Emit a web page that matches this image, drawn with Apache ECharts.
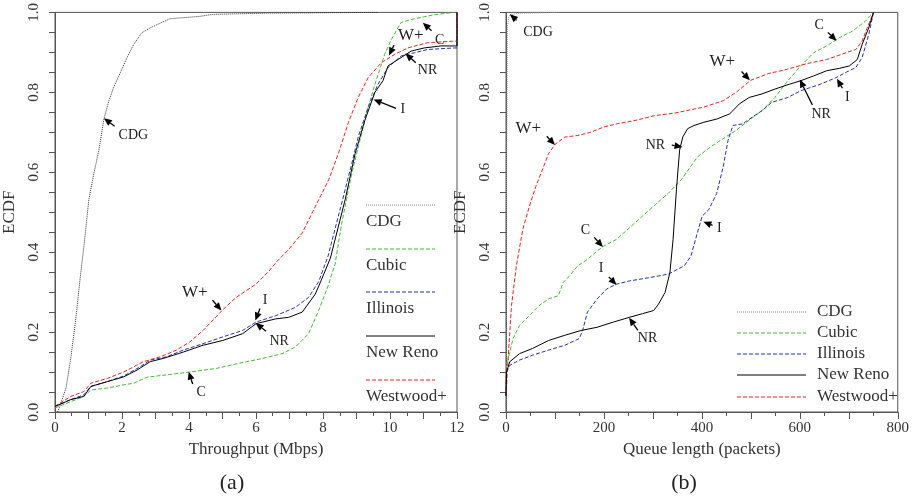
<!DOCTYPE html>
<html><head><meta charset="utf-8">
<script src="https://cdn.jsdelivr.net/npm/echarts@6/dist/echarts.min.js"></script>
<style>html,body{margin:0;padding:0;background:#fff}#c{width:912px;height:501px}</style>
</head><body><div id="c"></div>
<script>
// ---------- data ----------
const seriesNames = ['CDG', 'Cubic', 'Illinois', 'New Reno', 'Westwood+'];

// panel (a): throughput (Mbps) vs ECDF
const thrCDG = [[0.08,0],[0.23,0.035],[0.33,0.06],[0.47,0.134],[0.62,0.233],[0.77,0.349],[0.87,0.42],[1.01,0.531],[1.16,0.597],[1.31,0.655],[1.46,0.733],[1.61,0.779],[1.75,0.812],[1.95,0.849],[2.15,0.887],[2.35,0.92],[2.59,0.949],[2.84,0.961],[3.14,0.973],[3.43,0.984],[4.32,0.99],[4.7,0.995],[6.3,0.998],[9.64,1.0]];
const thrCubic = [[0,0.01],[0.47,0.026],[0.86,0.039],[1.07,0.055],[1.56,0.06],[2.05,0.068],[2.35,0.072],[2.74,0.087],[3.33,0.093],[4.02,0.1],[4.81,0.109],[5.5,0.122],[6.19,0.134],[6.78,0.146],[7.18,0.163],[7.57,0.196],[7.87,0.254],[8.15,0.315],[8.36,0.37],[8.56,0.473],[8.86,0.597],[9.15,0.696],[9.35,0.763],[9.55,0.82],[9.84,0.895],[10.04,0.932],[10.33,0.975],[10.73,0.984],[11.32,0.994],[11.9,1.0]];
const thrIllinois = [[0,0.014],[0.47,0.031],[0.86,0.043],[1.07,0.064],[1.56,0.076],[2.05,0.09],[2.54,0.113],[2.84,0.13],[3.33,0.138],[3.83,0.155],[4.42,0.171],[5.01,0.188],[5.6,0.204],[6.0,0.225],[6.59,0.241],[7.18,0.262],[7.57,0.287],[7.87,0.326],[8.15,0.39],[8.56,0.523],[8.86,0.622],[9.05,0.688],[9.35,0.763],[9.64,0.82],[9.94,0.862],[10.33,0.891],[10.73,0.899],[11.12,0.907],[11.9,0.911],[12,0.911],[12,1]];
const thrNewReno = [[0,0.014],[0.47,0.031],[0.86,0.039],[1.07,0.064],[1.56,0.076],[2.05,0.088],[2.45,0.105],[2.84,0.126],[3.23,0.134],[3.83,0.15],[4.42,0.167],[5.01,0.179],[5.6,0.196],[6.0,0.221],[6.59,0.233],[6.98,0.237],[7.38,0.25],[7.77,0.295],[7.95,0.33],[8.22,0.385],[8.66,0.531],[8.96,0.647],[9.25,0.73],[9.55,0.8],[9.79,0.829],[9.94,0.866],[10.24,0.882],[10.63,0.903],[11.02,0.911],[11.52,0.916],[12,0.916],[12,1]];
const thrWestwood = [[0,0.014],[0.47,0.039],[0.86,0.051],[1.07,0.072],[1.56,0.084],[2.05,0.1],[2.64,0.126],[3.14,0.138],[3.63,0.155],[4.02,0.175],[4.42,0.204],[5.01,0.256],[5.41,0.287],[6.0,0.32],[6.39,0.353],[6.64,0.378],[6.98,0.407],[7.38,0.448],[7.77,0.514],[8.17,0.581],[8.46,0.647],[8.76,0.725],[9.05,0.787],[9.35,0.837],[9.74,0.874],[10.14,0.895],[10.53,0.911],[11.12,0.924],[11.9,0.928],[12,0.928],[12,1]];

// panel (b): queue length (packets) vs ECDF
const qCDG = [[0,0],[0.8,0.5],[2.6,0.961],[5,0.985],[7.9,0.994],[27.7,0.998],[67,0.999],[107,1.0]];
const qCubic = [[0,0.05],[1,0.11],[4.6,0.134],[14.5,0.184],[27.7,0.217],[47.5,0.241],[67.3,0.266],[87.1,0.283],[106.9,0.291],[116.8,0.324],[130,0.341],[146.5,0.366],[166.3,0.382],[186.1,0.403],[199.4,0.415],[225.7,0.432],[252.1,0.461],[278.6,0.49],[304.9,0.519],[331.3,0.547],[357.8,0.581],[390.7,0.638],[417.2,0.663],[443.6,0.684],[470,0.705],[496.4,0.73],[522.8,0.754],[549.1,0.787],[575.6,0.829],[602,0.866],[628.3,0.899],[654.9,0.916],[681.2,0.937],[707.5,0.953],[734,0.978],[750.5,1.0]];
const qIllinois = [[0,0.04],[1,0.1],[7.9,0.117],[27.7,0.13],[54.1,0.142],[87.1,0.155],[120.2,0.167],[149.9,0.184],[156.4,0.204],[166.3,0.25],[186.1,0.283],[205.9,0.308],[225.7,0.32],[252.1,0.328],[291.7,0.336],[331.3,0.345],[364.4,0.366],[377.6,0.39],[390.7,0.448],[400.6,0.49],[413.9,0.506],[430.3,0.547],[443.6,0.614],[453.5,0.68],[463.4,0.717],[483.2,0.721],[503,0.738],[522.8,0.754],[542.6,0.775],[575.6,0.787],[602,0.804],[641.6,0.82],[674.6,0.837],[694.5,0.85],[714.3,0.862],[727.3,0.887],[740.6,0.944],[750.5,1.0]];
const qNewReno = [[0,0.04],[1,0.1],[7.9,0.126],[27.7,0.146],[54.1,0.159],[87.1,0.179],[120.2,0.192],[153.1,0.204],[186.1,0.212],[219.2,0.225],[252.1,0.237],[278.6,0.246],[301.6,0.254],[311.5,0.27],[324.8,0.299],[334.7,0.349],[341.2,0.432],[348,0.556],[354.5,0.655],[361,0.688],[370.9,0.709],[384,0.717],[404,0.725],[430.3,0.733],[456.8,0.746],[476.6,0.771],[496.4,0.787],[522.8,0.796],[549.1,0.808],[575.6,0.819],[602,0.829],[628.3,0.841],[654.9,0.854],[681.2,0.86],[701,0.866],[717.4,0.882],[727.3,0.92],[740.6,0.961],[750.5,1.0]];
const qWestwood = [[0,0.04],[1,0.06],[2.6,0.1],[11.2,0.266],[21.2,0.366],[34.3,0.457],[47.5,0.514],[60.8,0.564],[73.9,0.605],[87.1,0.647],[100.4,0.67],[120.2,0.688],[146.5,0.692],[172.9,0.7],[199.4,0.713],[225.7,0.721],[265.3,0.73],[304.9,0.742],[344.6,0.748],[384,0.758],[404,0.763],[443.6,0.779],[470,0.8],[499.6,0.83],[536,0.847],[575.6,0.858],[615.2,0.872],[654.9,0.882],[694.5,0.899],[714.3,0.907],[727.3,0.928],[737.2,0.96],[750.5,1.0]];

// annotation arrows (data coordinates): panel, arrow tip, arrow tail, label position, label
const annotations = [
  {g:0, tip:[1.46,0.735], tail:[1.78,0.715], at:[2.34,0.693], t:'CDG'},
  {g:0, tip:[4.97,0.254], tail:[4.70,0.280], at:[4.17,0.299], t:'W+'},
  {g:0, tip:[5.98,0.229], tail:[6.12,0.259], at:[6.27,0.279], t:'I'},
  {g:0, tip:[5.99,0.223], tail:[6.30,0.202], at:[6.69,0.177], t:'NR'},
  {g:0, tip:[3.99,0.101], tail:[4.11,0.070], at:[4.36,0.050], t:'C'},
  {g:0, tip:[9.97,0.892], tail:[10.12,0.918], at:[10.62,0.941], t:'W+'},
  {g:0, tip:[10.98,0.974], tail:[11.24,0.954], at:[11.48,0.930], t:'C'},
  {g:0, tip:[10.46,0.897], tail:[10.77,0.874], at:[11.12,0.854], t:'NR'},
  {g:0, tip:[9.51,0.782], tail:[10.18,0.760], at:[10.38,0.758], t:'I'},
  {g:1, tip:[7.9,0.995], tail:[21.8,0.980], at:[65.3,0.949], t:'CDG'},
  {g:1, tip:[100,0.668], tail:[83.2,0.690], at:[45.5,0.710], t:'W+'},
  {g:1, tip:[360.4,0.663], tail:[338.6,0.668], at:[305,0.668], t:'NR'},
  {g:1, tip:[198,0.413], tail:[180.2,0.437], at:[162.4,0.455], t:'C'},
  {g:1, tip:[403,0.476], tail:[421.8,0.467], at:[435.6,0.460], t:'I'},
  {g:1, tip:[675,0.929], tail:[657.4,0.950], at:[639.6,0.968], t:'C'},
  {g:1, tip:[498,0.830], tail:[481,0.852], at:[441.6,0.877], t:'W+'},
  {g:1, tip:[600,0.832], tail:[625.7,0.768], at:[643.6,0.745], t:'NR'},
  {g:1, tip:[676,0.834], tail:[687,0.810], at:[697,0.787], t:'I'},
  {g:1, tip:[225.7,0.318], tail:[210,0.338], at:[194,0.360], t:'I'},
  {g:1, tip:[251.5,0.236], tail:[269.3,0.204], at:[289,0.185], t:'NR'}
];

// ---------- styles ----------
const FONT = 'Liberation Serif';
const TXT = '#333';
const AX = '#555';
const styles = {
  'CDG':       {color:'#333333', type:[1,1], width:1},
  'Cubic':     {color:'#44bb33', type:[4,2], width:1},
  'Illinois':  {color:'#2233aa', type:[4,2], width:1},
  'New Reno':  {color:'#000000', type:'solid', width:1},
  'Westwood+': {color:'#ee2222', type:[4,2], width:1}
};
const panelA = [thrCDG, thrCubic, thrIllinois, thrNewReno, thrWestwood];
const panelB = [qCDG, qCubic, qIllinois, qNewReno, qWestwood];

function yAxis(gi) {
  return {
    type:'value', gridIndex:gi, min:0, max:1, interval:0.05,
    name:'ECDF', nameLocation:'middle', nameGap:37,
    nameTextStyle:{fontFamily:FONT, fontSize:17, color:TXT},
    axisLine:{show:true, lineStyle:{color:AX}},
    axisTick:{show:true, length:6, lineStyle:{color:AX}},
    splitLine:{show:false},
    axisLabel:{rotate:90, fontFamily:FONT, fontSize:15, color:TXT, margin:13,
      formatter:v=>{const k=Math.round(v*20); return k%4===0 ? (k/20).toFixed(1) : '';}}
  };
}
function xAxis(gi, max, interval, labelEvery, name) {
  return {
    type:'value', gridIndex:gi, min:0, max:max, interval:interval,
    name:name, nameLocation:'middle', nameGap:28,
    nameTextStyle:{fontFamily:FONT, fontSize:17, color:TXT},
    axisLine:{show:true, onZero:false, lineStyle:{color:AX}},
    axisTick:{show:true, length:7, lineStyle:{color:AX}},
    minorTick:{show:true, splitNumber:2, length:4, lineStyle:{color:AX}},
    splitLine:{show:false},
    axisLabel:{fontFamily:FONT, fontSize:15, color:TXT, margin:9, showMaxLabel:true,
      formatter:v=>{const k=Math.round(v/interval); return k%labelEvery===0 ? String(Math.round(v)) : '';}}
  };
}

const series = [];
[panelA, panelB].forEach((panel, gi) => {
  panel.forEach((data, i) => {
    const nm = seriesNames[i];
    const col = (gi===1 && nm==='CDG') ? '#8a8a8a' : styles[nm].color;
    series.push({
      type:'line', name:nm, xAxisIndex:gi, yAxisIndex:gi, data:data,
      symbol:'none', smooth:false, animation:false, clip:true,
      lineStyle:{color:col, type:styles[nm].type, width:styles[nm].width},
      itemStyle:{color:col},
      z: nm==='New Reno' ? 3 : 2
    });
  });
});

const chart = echarts.init(document.getElementById('c'), null, {renderer:'canvas'});
chart.setOption({
  animation:false,
  backgroundColor:'#fff',
  grid:[
    {left:54, top:8, width:403, height:404, show:true, borderColor:AX, borderWidth:1, backgroundColor:'transparent'},
    {left:506, top:8, width:404, height:404, show:true, borderColor:AX, borderWidth:1, backgroundColor:'transparent'}
  ],
  xAxis:[ xAxis(0, 12, 1, 2, 'Throughput (Mbps)'), xAxis(1, 800, 100, 2, 'Queue length (packets)') ],
  yAxis:[ yAxis(0), yAxis(1) ],
  series:series
});

// ---------- decorations: legends, panel labels, annotation arrows ----------
const graphics = [];
function legendLine(x1, x2, y, nm, col) {
  const s = styles[nm];
  graphics.push({type:'line', shape:{x1:x1, y1:y, x2:x2, y2:y},
    style:{stroke:col || s.color, lineWidth:1, lineDash: s.type==='solid' ? null : s.type}, z:10});
}
function legendText(x, y, nm) {
  graphics.push({type:'text', x:x, y:y,
    style:{text:nm, font:'17px "'+FONT+'"', fill:TXT, textVerticalAlign:'middle', textAlign:'left'}, z:10});
}
// left panel legend (line above text)
const legLeftY = [205, 249, 292, 336, 380];
seriesNames.forEach((nm, i) => { legendLine(366, 435, legLeftY[i], nm, nm==='CDG' ? '#8a8a8a' : null); legendText(366, legLeftY[i]+17, nm); });
// right panel legend (line beside text)
const legRightY = [312, 333, 354, 375, 397];
seriesNames.forEach((nm, i) => { legendLine(737, 806, legRightY[i], nm, nm==='CDG' ? '#8a8a8a' : null); legendText(817, legRightY[i], nm); });

graphics.push({type:'text', x:232, y:483, style:{text:'(a)', font:'22px "'+FONT+'"', fill:'#222', textAlign:'center', textVerticalAlign:'middle'}});
graphics.push({type:'text', x:684, y:483, style:{text:'(b)', font:'22px "'+FONT+'"', fill:'#222', textAlign:'center', textVerticalAlign:'middle'}});

annotations.forEach(a => {
  const tip = chart.convertToPixel({gridIndex:a.g}, a.tip);
  const tail = chart.convertToPixel({gridIndex:a.g}, a.tail);
  const at = chart.convertToPixel({gridIndex:a.g}, a.at);
  const dx = tip[0]-tail[0], dy = tip[1]-tail[1];
  const L = Math.sqrt(dx*dx+dy*dy) || 1;
  const ux = dx/L, uy = dy/L, px = -uy, py = ux;
  const hl = 8, hw = 3.5;
  const bx = tip[0]-ux*hl, by = tip[1]-uy*hl;
  graphics.push({type:'line', shape:{x1:tail[0], y1:tail[1], x2:bx, y2:by}, style:{stroke:'#000', lineWidth:1.3}, z:20});
  graphics.push({type:'polygon', shape:{points:[[tip[0],tip[1]],[bx+px*hw,by+py*hw],[bx-px*hw,by-py*hw]]}, style:{fill:'#000'}, z:20});
  graphics.push({type:'text', x:at[0], y:at[1],
    style:{text:a.t, font:(a.t==='W+'?'17px':'14px')+' "'+FONT+'"', fill:'#222', textAlign:'center', textVerticalAlign:'middle'}, z:20});
});
chart.setOption({graphic:graphics});
</script>
</body></html>
